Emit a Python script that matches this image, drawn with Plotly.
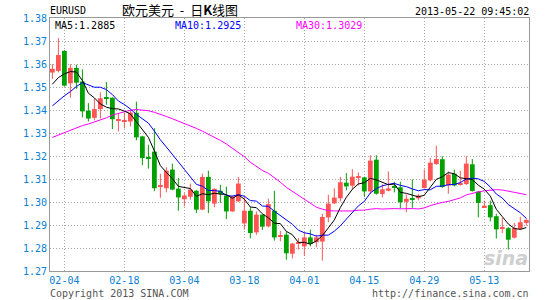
import plotly.graph_objects as go
import pandas as pd

# ---- data ----
dates = [d.strftime("%Y-%m-%d") for d in pd.bdate_range("2013-01-31", "2013-05-22")]

opens = [1.3563, 1.3570, 1.3657, 1.3516, 1.3583, 1.3524, 1.3397, 1.3366, 1.3404, 1.3456,
         1.3453, 1.3356, 1.3350, 1.3350, 1.3388, 1.3285, 1.3194, 1.3219, 1.3066, 1.3060,
         1.3141, 1.3058, 1.3012, 1.3023, 1.3049, 1.2967, 1.3109, 1.2993, 1.3049, 1.3028,
         1.2959, 1.3003, 1.2907, 1.2962, 1.2868, 1.2945, 1.2894, 1.2962, 1.2851, 1.2858,
         1.2775, 1.2819, 1.2807, 1.2846, 1.2825, 1.2828, 1.2933, 1.2994, 1.3016, 1.3084,
         1.3071, 1.3106, 1.3107, 1.3046, 1.3184, 1.3035, 1.3049, 1.3070, 1.3064, 1.3001,
         1.3016, 1.3016, 1.3061, 1.3094, 1.3165, 1.3186, 1.3072, 1.3123, 1.3075, 1.3078,
         1.3164, 1.3045, 1.2978, 1.2986, 1.2938, 1.2883, 1.2886, 1.2845, 1.2883, 1.2909]
highs = [1.3599, 1.3712, 1.3660, 1.3599, 1.3597, 1.3577, 1.3430, 1.3449, 1.3477, 1.3522,
         1.3455, 1.3382, 1.3389, 1.3401, 1.3436, 1.3288, 1.3249, 1.3321, 1.3123, 1.3151,
         1.3167, 1.3104, 1.3038, 1.3080, 1.3052, 1.3123, 1.3136, 1.3060, 1.3075, 1.3067,
         1.3028, 1.3109, 1.3025, 1.2978, 1.2959, 1.2946, 1.3014, 1.3049, 1.2875, 1.2872,
         1.2822, 1.2843, 1.2870, 1.2880, 1.2858, 1.2949, 1.3032, 1.3059, 1.3109, 1.3126,
         1.3143, 1.3129, 1.3110, 1.3203, 1.3203, 1.3078, 1.3133, 1.3088, 1.3088, 1.3033,
         1.3098, 1.3036, 1.3141, 1.3191, 1.3245, 1.3199, 1.3133, 1.3141, 1.3136, 1.3199,
         1.3187, 1.3048, 1.3006, 1.3006, 1.2949, 1.2930, 1.2891, 1.2909, 1.2936, 1.2929]
lows = [1.3535, 1.3564, 1.3502, 1.3454, 1.3492, 1.3368, 1.3350, 1.3355, 1.3363, 1.3423,
        1.3317, 1.3307, 1.3320, 1.3329, 1.3268, 1.3160, 1.3145, 1.3047, 1.3018, 1.3042,
        1.3051, 1.2962, 1.2981, 1.3010, 1.2952, 1.2964, 1.2952, 1.2977, 1.2996, 1.2926,
        1.2957, 1.3000, 1.2880, 1.2842, 1.2857, 1.2878, 1.2890, 1.2832, 1.2829, 1.2749,
        1.2755, 1.2793, 1.2765, 1.2807, 1.2803, 1.2745, 1.2912, 1.2991, 1.3003, 1.3051,
        1.3054, 1.3072, 1.3022, 1.3035, 1.3032, 1.3020, 1.3046, 1.3042, 1.2972, 1.2955,
        1.2975, 1.3007, 1.3058, 1.3090, 1.3162, 1.3062, 1.3036, 1.3068, 1.3071, 1.3074,
        1.3045, 1.2933, 1.2975, 1.2916, 1.2841, 1.2865, 1.2793, 1.2841, 1.2878, 1.2897]
closes = [1.3579, 1.3639, 1.3506, 1.3583, 1.3519, 1.3394, 1.3363, 1.3404, 1.3451, 1.3450,
          1.3360, 1.3359, 1.3356, 1.3389, 1.3281, 1.3191, 1.3188, 1.3060, 1.3070, 1.3136,
          1.3054, 1.3020, 1.3028, 1.3054, 1.2967, 1.3109, 1.3003, 1.3057, 1.3035, 1.2959,
          1.3025, 1.3080, 1.2962, 1.2865, 1.2945, 1.2893, 1.2991, 1.2846, 1.2855, 1.2777,
          1.2819, 1.2825, 1.2846, 1.2817, 1.2846, 1.2935, 1.2993, 1.3019, 1.3086, 1.3068,
          1.3110, 1.3109, 1.3046, 1.3180, 1.3036, 1.3055, 1.3059, 1.3061, 1.2999, 1.3014,
          1.3010, 1.3028, 1.3097, 1.3171, 1.3187, 1.3065, 1.3119, 1.3072, 1.3083, 1.3167,
          1.3048, 1.2996, 1.2984, 1.2933, 1.2881, 1.2888, 1.2836, 1.2887, 1.2912, 1.2922]

# moving-average values at the start of the window (read from the picture,
# they depend on closes before the first visible day)
ma5_head = [1.3512, 1.3541, 1.3557, 1.3567]
ma10_head = [1.3418, 1.3441, 1.3462, 1.3480, 1.3502, 1.3519, 1.3509, 1.3499, 1.3499]
ma30_head = [1.3281, 1.3291, 1.3303, 1.3314, 1.3324, 1.3332, 1.3339, 1.3347, 1.3355, 1.3366,
             1.3378, 1.3386, 1.3392, 1.3399, 1.3402, 1.3401, 1.3397, 1.3390, 1.3382, 1.3372,
             1.3362, 1.3352, 1.3342, 1.3331, 1.3320, 1.3308, 1.3295, 1.3282, 1.3268]

tick_dates = ["2013-02-04", "2013-02-18", "2013-03-04", "2013-03-18",
              "2013-04-01", "2013-04-15", "2013-04-29", "2013-05-13"]
tick_text = ["02-04", "02-18", "03-04", "03-18", "04-01", "04-15", "04-29", "05-13"]

ma_labels = ["MA5:1.2885", "MA10:1.2925", "MA30:1.3029"]
symbol = "EURUSD"
title = "欧元美元&nbsp;&nbsp;-&nbsp;&nbsp;日<b>K</b>线图"
timestamp = "2013-05-22 09:45:02"
copyright_txt = "Copyright 2013 SINA.COM"
url_txt = "http://finance.sina.com.cn"

# ---- styling ----
RED = "#FF5555"
GREEN = "#00A000"
BLUE_TXT = "#0A7FD4"
MONO = "DejaVu Sans Mono, Liberation Mono, monospace"

cl = pd.Series(closes)
ma5 = cl.rolling(5).mean().tolist()
ma10 = cl.rolling(10).mean().tolist()
ma30 = cl.rolling(30).mean().tolist()
ma5[:len(ma5_head)] = ma5_head
ma10[:len(ma10_head)] = ma10_head
ma30[:len(ma30_head)] = ma30_head

up = [c >= o for o, c in zip(opens, closes)]
colors = [RED if u else GREEN for u in up]
body_base = [min(o, c) for o, c in zip(opens, closes)]
body_h = [max(abs(c - o), 0.00045) for o, c in zip(opens, closes)]

fig = go.Figure()

for flag, col in [(True, RED), (False, GREEN)]:
    wx, wy = [], []
    for d, h, l, u in zip(dates, highs, lows, up):
        if u == flag:
            wx += [d, d, None]
            wy += [l, h, None]
    fig.add_trace(go.Scatter(x=wx, y=wy, mode="lines", line=dict(color=col, width=1),
                             hoverinfo="skip", showlegend=False))

fig.add_trace(go.Bar(x=dates, y=body_h, base=body_base, width=0.8,
                     marker=dict(color=colors, line=dict(width=0)),
                     hoverinfo="skip", showlegend=False))

for ma, col in [(ma30, "#FF00FF"), (ma10, "#0000FF"), (ma5, "#000000")]:
    fig.add_trace(go.Scatter(x=dates, y=ma, mode="lines", line=dict(color=col, width=1),
                             hoverinfo="skip", showlegend=False))

L, R, T, B = 50, 16, 18, 29
W, H = 545, 300
pw, ph = W - L - R, H - T - B


def px(x):
    return (x - L) / pw


def py(y):
    return (H - B - y) / ph


ann = []
ann.append(dict(text=symbol, x=px(49), y=py(11), xanchor="left", yanchor="middle",
                font=dict(family=MONO, size=10, color="black")))
ann.append(dict(text=title, x=px(180), y=py(9.5), xanchor="center", yanchor="middle",
                font=dict(family="Noto Sans CJK SC", size=13, color="black")))
ann.append(dict(text=timestamp, x=px(530), y=py(11.5), xanchor="right", yanchor="middle",
                font=dict(family=MONO, size=10, color="black")))
for lab, xl, col in zip(ma_labels, [54, 174, 295], ["#000000", "#0000FF", "#FF00FF"]):
    ann.append(dict(text=lab, x=px(xl), y=py(25.5), xanchor="left", yanchor="middle",
                    font=dict(family=MONO, size=10, color=col)))
ann.append(dict(text=copyright_txt, x=px(49), y=py(293), xanchor="left", yanchor="middle",
                font=dict(family=MONO, size=10, color="#555555")))
ann.append(dict(text=url_txt, x=px(530), y=py(293), xanchor="right", yanchor="middle",
                font=dict(family=MONO, size=10, color="#555555")))
ann.append(dict(text="<b><i>sina</i></b>", x=px(529), y=py(258), xanchor="right", yanchor="middle",
                font=dict(family="DejaVu Sans", size=19, color="#CFCFCF")))
for a in ann:
    a.update(xref="paper", yref="paper", showarrow=False, borderpad=0)

grid = dict(showgrid=True, gridcolor="#A8A8A8", gridwidth=1, griddash="1px,2px",
            showline=True, mirror=True, linecolor="#999999", linewidth=1,
            zeroline=False, ticks="")

fig.update_layout(
    width=W, height=H,
    margin=dict(l=L, r=R, t=T, b=B, pad=0),
    paper_bgcolor="white", plot_bgcolor="white",
    showlegend=False, hovermode=False,
    annotations=ann,
    xaxis=dict(type="category", categoryorder="array", categoryarray=dates,
               range=[-0.4, 79.45], tickmode="array", tickangle=0,
               tickvals=tick_dates, ticktext=tick_text,
               tickfont=dict(family=MONO, size=10, color=BLUE_TXT), **grid),
    yaxis=dict(range=[1.27, 1.38], tick0=1.27, dtick=0.01, tickformat=".2f",
               tickfont=dict(family=MONO, size=10, color=BLUE_TXT), **grid),
)

fig.write_html("out.html")
